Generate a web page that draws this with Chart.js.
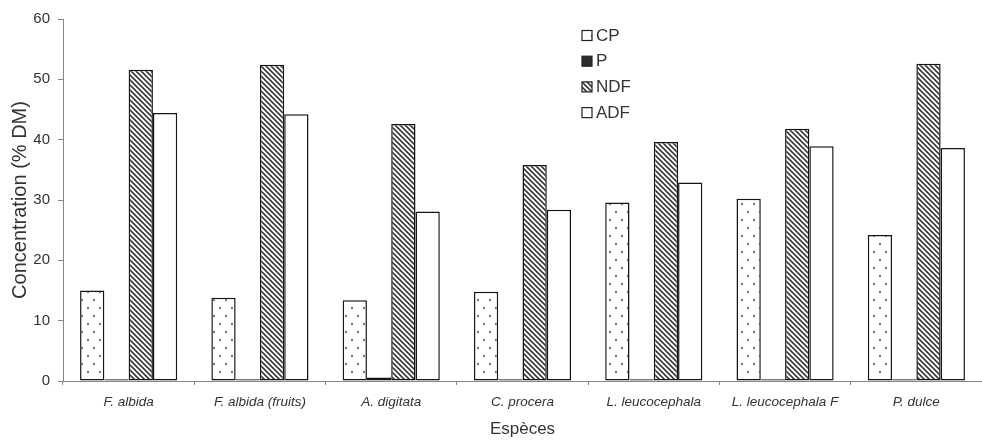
<!DOCTYPE html>
<html>
<head>
<meta charset="utf-8">
<script src="https://cdn.jsdelivr.net/npm/chart.js@4/dist/chart.umd.min.js"></script>
<style>
  html, body { margin: 0; padding: 0; background: #fff; }
  #wrap { width: 982px; height: 440px; }
</style>
</head>
<body>
<div id="wrap"><canvas id="c" width="982" height="440"></canvas></div>
<script>
const categories = ['F. albida', 'F. albida (fruits)', 'A. digitata', 'C. procera', 'L. leucocephala', 'L. leucocephala F', 'P. dulce'];
const seriesNames = ['CP', 'P', 'NDF', 'ADF'];
const cpValues  = [15.0, 13.8, 13.4, 14.8, 29.6, 30.2, 24.2];
const pValues   = [0.3, 0.3, 0.6, 0.3, 0.3, 0.3, 0.3];
const ndfValues = [51.6, 52.4, 42.6, 35.8, 39.6, 41.8, 52.6];
const adfValues = [44.4, 44.2, 28.1, 28.4, 32.9, 38.9, 38.6];
const yTicks = [0, 10, 20, 30, 40, 50, 60];

function dotPattern() {
  const c = document.createElement('canvas');
  c.width = 12; c.height = 16;
  const g = c.getContext('2d');
  g.fillStyle = '#fff'; g.fillRect(0, 0, 12, 16);
  g.fillStyle = '#7a7a7a';
  g.beginPath(); g.arc(4, 4, 1.2, 0, Math.PI * 2); g.fill();
  g.beginPath(); g.arc(10, 12, 1.2, 0, Math.PI * 2); g.fill();
  return g.createPattern(c, 'repeat');
}
function hatchPattern() {
  const c = document.createElement('canvas');
  c.width = 5; c.height = 5;
  const g = c.getContext('2d');
  g.fillStyle = '#fff'; g.fillRect(0, 0, 5, 5);
  g.strokeStyle = '#3a3a3a'; g.lineWidth = 1.6;
  g.beginPath();
  g.moveTo(-1, -1); g.lineTo(6, 6);
  g.moveTo(-1, 4); g.lineTo(1, 6);
  g.moveTo(4, -1); g.lineTo(6, 1);
  g.stroke();
  return g.createPattern(c, 'repeat');
}

const fills = [dotPattern(), '#2e2e2e', hatchPattern(), '#ffffff'];
const valueSets = [cpValues, pValues, ndfValues, adfValues];

const legendPlugin = {
  id: 'customLegend',
  afterDraw(chart) {
    const ctx = chart.ctx;
    ctx.save();
    ctx.font = '17px "Liberation Sans", Arial, sans-serif';
    ctx.textBaseline = 'middle';
    ctx.textAlign = 'left';
    chart.data.datasets.forEach((ds, i) => {
      const y = 35.5 + i * 25.7;
      ctx.fillStyle = ds.backgroundColor;
      ctx.fillRect(582, y - 5, 10, 10);
      ctx.strokeStyle = '#222';
      ctx.lineWidth = 1.2;
      ctx.strokeRect(582, y - 5, 10, 10);
      ctx.fillStyle = '#333';
      ctx.fillText(ds.label, 596, y + 0.5);
    });
    ctx.restore();
  }
};

new Chart(document.getElementById('c'), {
  type: 'bar',
  data: {
    labels: categories,
    datasets: seriesNames.map((n, i) => ({
      label: n,
      data: valueSets[i],
      backgroundColor: fills[i],
      borderColor: '#151515',
      borderWidth: 1.5,
      borderSkipped: false,
      categoryPercentage: 0.74,
      barPercentage: 1.0
    }))
  },
  options: {
    responsive: false,
    animation: false,
    layout: { padding: { top: 19, right: -2, left: 0, bottom: 0 } },
    plugins: {
      legend: { display: false },
      tooltip: { enabled: false }
    },
    scales: {
      x: {
        grid: { offset: true, drawOnChartArea: false, tickLength: 4, color: '#888', lineWidth: 1 },
        border: { color: '#888', width: 1 },
        ticks: {
          color: '#333',
          font: { family: '"Liberation Sans", Arial, sans-serif', size: 13.5, style: 'italic' },
          padding: 9,
          maxRotation: 0,
          autoSkip: false
        },
        title: {
          display: true,
          text: 'Espèces',
          color: '#333',
          font: { family: '"Liberation Sans", Arial, sans-serif', size: 17 },
          padding: { top: 0, bottom: 0 }
        },
        afterFit(scale) { scale.height = 59; }
      },
      y: {
        min: 0, max: 60,
        afterBuildTicks(scale) { scale.ticks = yTicks.map(v => ({ value: v })); },
        grid: { drawOnChartArea: false, tickLength: 5, color: '#888' },
        border: { color: '#888', width: 1 },
        ticks: {
          color: '#333',
          font: { family: '"Liberation Sans", Arial, sans-serif', size: 15 },
          padding: 8
        },
        title: {
          display: true,
          text: 'Concentration (% DM)',
          color: '#333',
          font: { family: '"Liberation Sans", Arial, sans-serif', size: 20 },
          padding: { top: 8, bottom: 0 }
        },
        afterFit(scale) { scale.width = 63; }
      }
    }
  },
  plugins: [legendPlugin]
});
</script>
</body>
</html>
